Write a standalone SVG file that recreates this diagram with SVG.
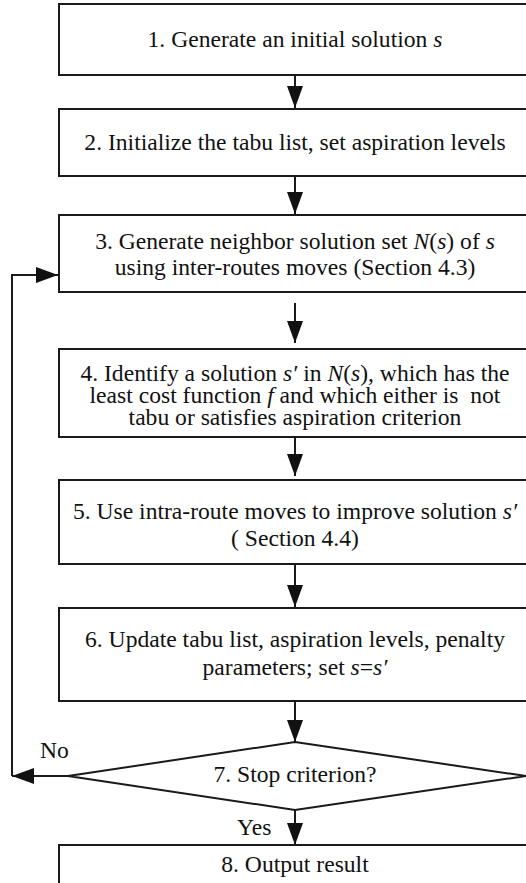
<svg xmlns="http://www.w3.org/2000/svg" width="526" height="883" viewBox="0 0 526 883">
<style>
.box{fill:#fff;stroke:#1a1a1a;stroke-width:2}
.t{font-family:"Liberation Serif","Times New Roman",serif;font-size:23.6px;fill:#111;text-anchor:middle}
.l{font-family:"Liberation Serif","Times New Roman",serif;font-size:23.6px;fill:#111}
.i{font-style:italic}
.c{fill:none;stroke:#1a1a1a;stroke-width:2}
</style>
<defs>
<marker id="ah" markerUnits="userSpaceOnUse" markerWidth="24" markerHeight="18" refX="22" refY="8" orient="auto">
<path d="M0,0 L22,8 L0,16 Z" fill="#111"/>
</marker>
</defs>
<rect width="526" height="883" fill="#fff"/>
<g id="connectors">
<line class="c" x1="295" y1="75" x2="295" y2="108" marker-end="url(#ah)"/>
<line class="c" x1="295" y1="176" x2="295" y2="214" marker-end="url(#ah)"/>
<line class="c" x1="295" y1="303" x2="295" y2="343" marker-end="url(#ah)"/>
<line class="c" x1="295" y1="437" x2="295" y2="476" marker-end="url(#ah)"/>
<line class="c" x1="295" y1="564" x2="295" y2="607" marker-end="url(#ah)"/>
<line class="c" x1="295" y1="701" x2="295" y2="742" marker-end="url(#ah)"/>
<line class="c" x1="68" y1="776" x2="12" y2="776" marker-end="url(#ah)"/>
<polyline class="c" points="12,776 12,275 58,275" marker-end="url(#ah)"/>
<line class="c" x1="295" y1="810" x2="295" y2="845" marker-end="url(#ah)"/>
<text class="l" x="40" y="758">No</text>
<text class="l" x="237" y="835">Yes</text>
</g>
<g id="n1">
<rect class="box" x="59" y="4" width="474" height="71"/>
<text class="t" x="295" y="47">1. Generate an initial solution <tspan class="i">s</tspan></text>
</g>
<g id="n2">
<rect class="box" x="59" y="109" width="474" height="67"/>
<text class="t" x="295" y="150">2. Initialize the tabu list, set aspiration levels</text>
</g>
<g id="n3">
<rect class="box" x="59" y="215" width="474" height="77"/>
<text class="t" x="295" y="249">3. Generate neighbor solution set <tspan class="i">N</tspan>(<tspan class="i">s</tspan>) of <tspan class="i">s</tspan></text>
<text class="t" x="295" y="275">using inter-routes moves (Section 4.3)</text>
</g>
<g id="n4">
<rect class="box" x="59" y="349" width="474" height="88"/>
<text class="t" x="295" y="381">4. Identify a solution <tspan class="i">s′</tspan> in <tspan class="i">N</tspan>(<tspan class="i">s</tspan>), which has the</text>
<text class="t" x="295" y="403" xml:space="preserve">least cost function <tspan class="i">f</tspan> and which either is  not</text>
<text class="t" x="295" y="425">tabu or satisfies aspiration criterion</text>
</g>
<g id="n5">
<rect class="box" x="59" y="480" width="474" height="84"/>
<text class="t" x="295" y="519">5. Use intra-route moves to improve solution <tspan class="i">s′</tspan></text>
<text class="t" x="295" y="546">( Section 4.4)</text>
</g>
<g id="n6">
<rect class="box" x="59" y="608" width="474" height="93"/>
<text class="t" x="295" y="647">6. Update tabu list, aspiration levels, penalty</text>
<text class="t" x="295" y="675">parameters; set <tspan class="i">s</tspan>=<tspan class="i">s′</tspan></text>
</g>
<g id="n7">
<polygon class="box" points="295,742 526,776 295,810 68,776"/>
<text class="t" x="295" y="782">7. Stop criterion?</text>
</g>
<g id="n8">
<rect class="box" x="59" y="845" width="474" height="50"/>
<text class="t" x="295" y="872">8. Output result</text>
</g>
</svg>
